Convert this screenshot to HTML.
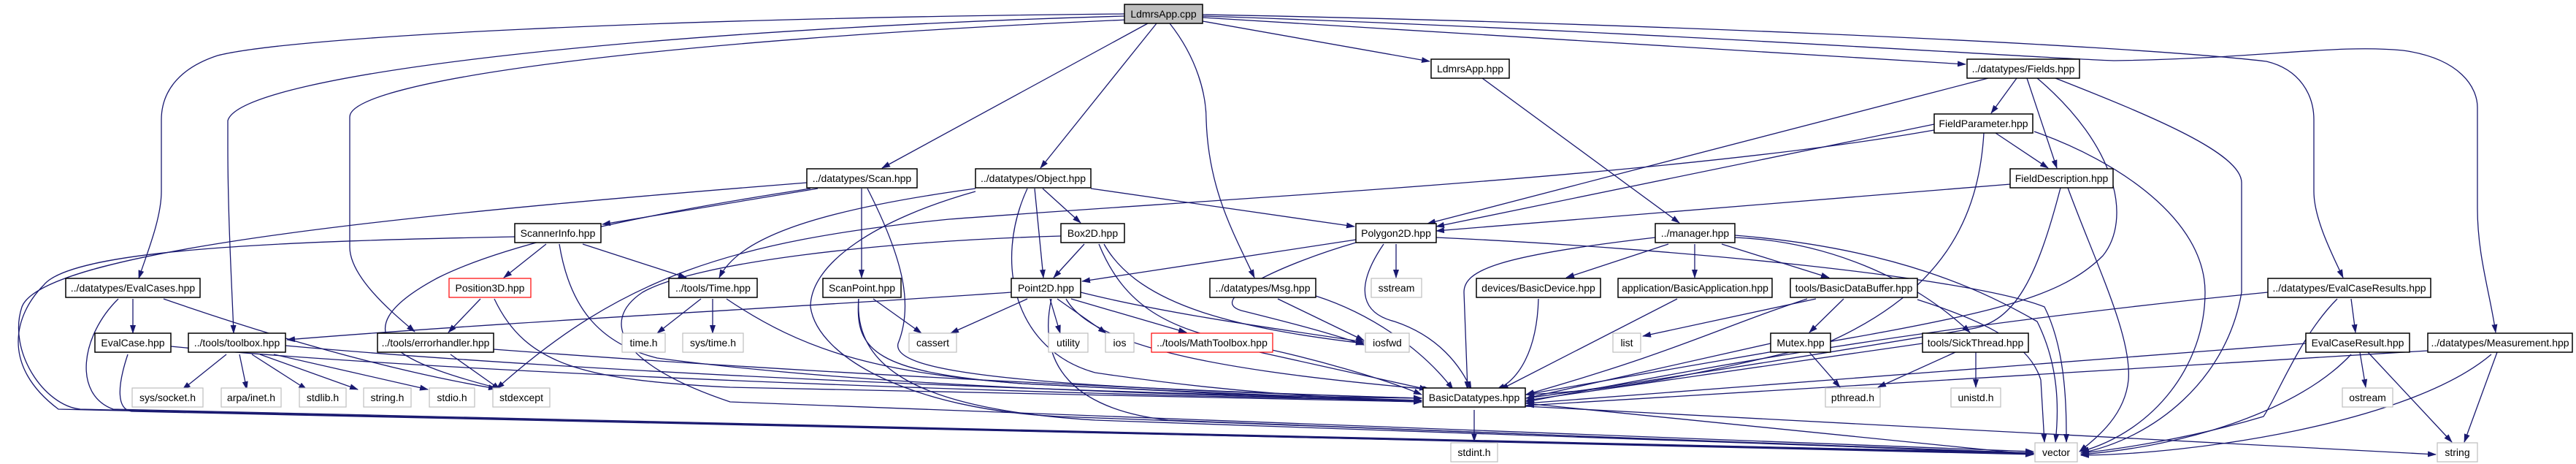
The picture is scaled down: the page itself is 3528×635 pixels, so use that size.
<!DOCTYPE html>
<html><head><meta charset="utf-8"><style>
html,body{margin:0;padding:0;background:#fff}
svg{display:block}
text{font-family:"Liberation Sans",sans-serif;font-size:14px;fill:#000}
.e{fill:none;stroke:#191970;stroke-width:1.3}
.n{fill:#fff;stroke:#000;stroke-width:1.5}
.g{fill:#fff;stroke:#bfbfbf;stroke-width:1.2}
.r{fill:#fff;stroke:#ff0000;stroke-width:1.2}
</style></head><body>
<svg width="3528" height="635" viewBox="0 0 3528 635" xmlns="http://www.w3.org/2000/svg">
<defs><marker id="a" markerWidth="12" markerHeight="8" refX="11" refY="4" orient="auto" markerUnits="userSpaceOnUse"><path d="M0,0 L12,4 L0,8 z" fill="#191970"/></marker></defs>
<g class="e" marker-end="url(#a)">
<!-- root edges -->
<path d="M1540,19 C900,25 400,50 298,76 C240,95 221,130 221,164 L221,262 C221,300 200,350 190,381"/>
<path d="M1540,22 C900,40 330,100 312,165 L312,200 C312,300 318,400 320,456"/>
<path d="M1545,27 C900,55 479,110 479,160 L479,338 C479,380 540,430 568,454"/>
<path d="M1572,32 L1208,230"/>
<path d="M1584,32 L1425,230"/>
<path d="M1602,32 C1640,80 1652,130 1652,164 C1655,260 1690,320 1718,380"/>
<path d="M1647,29 L1958,84"/>
<path d="M1647,24 L2692,88"/>
<path d="M1647,20 C2200,30 2900,60 3104,84 C3150,95 3169,130 3169,164 L3169,262 C3169,300 3195,350 3209,380"/>
<path d="M1647,22 C2200,40 2800,80 2895,83 C3100,80 3200,60 3291,69 C3370,80 3393,120 3393,147 L3393,285 C3393,350 3410,400 3418,455"/>
<!-- Scan -->
<path d="M1120,258 L825,307"/>
<path d="M1180,258 L1180,380"/>
<path d="M1188,258 C1240,360 1250,420 1230,470 C1220,510 1400,530 1947,545"/>
<path d="M1105,250 C600,290 60,340 30,420 C10,480 60,555 110,560 L2785,622"/>
<path d="M1110,258 C900,290 700,330 600,380 C450,460 560,500 685,532"/>
<!-- ScannerInfo -->
<path d="M748,334 L690,380"/>
<path d="M798,334 L940,380"/>
<path d="M766,334 C780,420 820,470 900,490 C1200,530 1600,540 1947,548"/>
<path d="M705,324 C400,330 100,340 60,390 C20,430 0,500 80,560 L2785,620"/>
<!-- Position3D -->
<path d="M658,409 L614,455"/>
<path d="M677,409 C720,500 800,520 1000,530 C1400,540 1700,545 1947,550"/>
<!-- EvalCases -->
<path d="M182,409 L182,456"/>
<path d="M162,409 C110,460 100,540 155,560 L2785,620"/>
<path d="M224,409 C400,470 550,510 680,532"/>
<!-- EvalCase -->
<path d="M234,474 C600,510 1400,540 1947,548"/>
<path d="M175,485 C160,530 160,560 180,563 L2785,621"/>
<!-- toolbox -->
<path d="M310,485 L250,533"/>
<path d="M328,485 L338,533"/>
<path d="M345,485 L420,533"/>
<path d="M356,485 L490,533"/>
<path d="M375,485 L586,533"/>
<path d="M391,473 C800,510 1500,540 1947,545"/>
<!-- errorhandler -->
<path d="M617,485 L685,533"/>
<path d="M676,478 C1100,510 1600,535 1947,545"/>
<!-- Time -->
<path d="M960,409 L900,456"/>
<path d="M976,409 L976,456"/>
<path d="M995,409 C1100,480 1200,510 1400,525 C1700,540 1850,545 1947,548"/>
<!-- Object -->
<path d="M1428,258 L1480,305"/>
<path d="M1417,258 L1429,380"/>
<path d="M1494,258 L1855,310"/>
<path d="M1336,258 C1100,290 1010,330 985,380"/>
<path d="M1407,258 C1360,360 1390,480 1500,510 C1700,540 1850,545 1947,550"/>
<path d="M1336,262 C1200,300 1110,360 1110,420 C1120,490 1250,560 1450,570 L2785,620"/>
<!-- Box2D -->
<path d="M1485,334 L1443,380"/>
<path d="M1512,334 C1560,420 1700,450 1868,470"/>
<path d="M1505,334 C1540,420 1600,450 1700,470 C1800,490 1900,520 1947,540"/>
<path d="M1453,323 C1200,330 950,360 880,400 C820,440 850,500 1000,550 L2785,618"/>
<!-- ScanPoint -->
<path d="M1196,409 L1262,456"/>
<path d="M1176,409 C1170,480 1200,510 1400,525 C1700,540 1850,548 1947,550"/>
<path d="M1176,409 C1170,500 1250,560 1500,575 L2785,620"/>
<!-- Point2D -->
<path d="M1407,409 L1302,456"/>
<path d="M1438,409 L1452,456"/>
<path d="M1448,409 L1515,456"/>
<path d="M1467,409 L1625,455"/>
<path d="M1480,400 C1600,430 1750,450 1868,468"/>
<path d="M1460,409 C1500,480 1700,510 1960,533"/>
<path d="M1440,409 C1420,500 1470,560 1600,575 L2785,621"/>
<path d="M1385,400 C1100,420 700,440 393,465"/>
<!-- MathToolbox, Msg -->
<path d="M1725,482 L1955,533"/>
<path d="M1750,409 L1868,466"/>
<path d="M1802,405 C1880,430 1950,480 1990,533"/>
<!-- Polygon2D -->
<path d="M1857,328 L1482,385"/>
<path d="M1912,334 L1912,380"/>
<path d="M1895,334 C1850,400 1870,430 1910,440 C1970,460 2000,500 2015,533"/>
<path d="M1857,332 C1760,360 1650,410 1700,425 C1760,440 1820,455 1868,472"/>
<path d="M1967,325 C2300,340 2700,380 2800,420 C2830,480 2830,560 2830,605"/>
<!-- LdmrsApp.hpp, manager -->
<path d="M2030,107 L2300,305"/>
<path d="M2285,334 L2145,380"/>
<path d="M2321,334 L2321,380"/>
<path d="M2358,334 L2505,380"/>
<path d="M2267,325 C2050,350 2005,370 2005,400 L2010,533"/>
<path d="M2376,325 C2500,330 2620,380 2698,455"/>
<path d="M2376,322 C2600,340 2720,400 2790,440 C2820,500 2820,560 2815,605"/>
<!-- devices / application / buffer -->
<path d="M2107,409 C2105,480 2080,520 2050,533"/>
<path d="M2297,409 L2055,533"/>
<path d="M2487,409 L2250,460"/>
<path d="M2525,409 L2478,455"/>
<path d="M2475,409 C2350,450 2300,480 2090,540"/>
<path d="M2626,410 C2720,440 2780,470 2795,520 L2800,605"/>
<path d="M2478,482 L2520,530"/>
<path d="M2425,470 L2090,545"/>
<path d="M2678,482 L2572,530"/>
<path d="M2706,482 L2706,530"/>
<path d="M2633,470 L2090,548"/>
<!-- BasicDatatypes -->
<path d="M2019,561 L2019,604"/>
<path d="M2089,552 L2785,622"/>
<path d="M2089,556 L3336,622"/>
<!-- Fields -->
<path d="M2762,107 L2727,155"/>
<path d="M2776,107 L2817,230"/>
<path d="M2723,107 L1955,306"/>
<path d="M2790,107 C2900,200 2920,300 2880,350 C2800,430 2650,440 2090,540"/>
<path d="M2815,107 C2950,160 3070,210 3070,250 L3070,400 C3050,520 2950,600 2850,620"/>
<!-- FieldParameter -->
<path d="M2733,182 L2805,230"/>
<path d="M2649,170 L1967,310"/>
<path d="M2717,182 C2710,300 2660,400 2500,470 C2300,520 2200,535 2090,540"/>
<path d="M2786,180 C2900,220 3020,300 3020,400 C3020,500 2950,590 2850,618"/>
<path d="M2649,178 C2300,240 1700,270 1300,300 C1000,330 850,380 680,532"/>
<!-- FieldDescription -->
<path d="M2754,252 L1967,316"/>
<path d="M2822,257 C2790,380 2760,440 2700,450 C2400,500 2200,530 2090,545"/>
<path d="M2832,257 C2870,360 2920,460 2915,520 C2910,570 2870,600 2848,618"/>
<!-- EvalCaseResults -->
<path d="M3220,409 L3226,455"/>
<path d="M3106,400 C2600,450 2300,510 2090,550"/>
<path d="M3201,409 C3150,460 3120,540 3100,570 C3000,600 2900,615 2850,620"/>
<!-- EvalCaseResult -->
<path d="M3232,482 L3240,530"/>
<path d="M3243,482 L3358,605"/>
<path d="M3220,485 C3150,560 3000,610 2850,622"/>
<path d="M3158,470 L2090,552"/>
<!-- Measurement -->
<path d="M3420,482 L3375,605"/>
<path d="M3412,485 C3300,580 3000,622 2850,623"/>
<path d="M3325,480 L2090,555"/>
</g>
<!-- nodes -->
<g>
<rect x="1540" y="6" width="107" height="26" fill="#bfbfbf" stroke="#000" stroke-width="1.5"/><text x="1593.5" y="24" text-anchor="middle">LdmrsApp.cpp</text>
<rect class="n" x="1960" y="81" width="107" height="26"/><text x="2013.5" y="99" text-anchor="middle">LdmrsApp.hpp</text>
<rect class="n" x="2694" y="81" width="154" height="26"/><text x="2771" y="99" text-anchor="middle">../datatypes/Fields.hpp</text>
<rect class="n" x="2649" y="156" width="135" height="26"/><text x="2716.5" y="174" text-anchor="middle">FieldParameter.hpp</text>
<rect class="n" x="1105" y="231" width="151" height="26"/><text x="1180.5" y="249" text-anchor="middle">../datatypes/Scan.hpp</text>
<rect class="n" x="1336" y="231" width="158" height="26"/><text x="1415" y="249" text-anchor="middle">../datatypes/Object.hpp</text>
<rect class="n" x="2753" y="231" width="141" height="26"/><text x="2823.5" y="249" text-anchor="middle">FieldDescription.hpp</text>
<rect class="n" x="705" y="306" width="118" height="26"/><text x="764" y="324" text-anchor="middle">ScannerInfo.hpp</text>
<rect class="n" x="1453" y="306" width="87" height="26"/><text x="1496.5" y="324" text-anchor="middle">Box2D.hpp</text>
<rect class="n" x="1857" y="306" width="110" height="26"/><text x="1912" y="324" text-anchor="middle">Polygon2D.hpp</text>
<rect class="n" x="2267" y="306" width="109" height="26"/><text x="2321.5" y="324" text-anchor="middle">../manager.hpp</text>
<rect class="n" x="90" y="381" width="184" height="26"/><text x="182" y="399" text-anchor="middle">../datatypes/EvalCases.hpp</text>
<rect class="r" x="615" y="381" width="112" height="26"/><text x="671" y="399" text-anchor="middle">Position3D.hpp</text>
<rect class="n" x="916" y="381" width="121" height="26"/><text x="976.5" y="399" text-anchor="middle">../tools/Time.hpp</text>
<rect class="n" x="1127" y="381" width="107" height="26"/><text x="1180.5" y="399" text-anchor="middle">ScanPoint.hpp</text>
<rect class="n" x="1385" y="381" width="95" height="26"/><text x="1432.5" y="399" text-anchor="middle">Point2D.hpp</text>
<rect class="n" x="1657" y="381" width="145" height="26"/><text x="1729.5" y="399" text-anchor="middle">../datatypes/Msg.hpp</text>
<rect class="g" x="1878" y="381" width="69" height="26"/><text x="1912.5" y="399" text-anchor="middle">sstream</text>
<rect class="n" x="2022" y="381" width="170" height="26"/><text x="2107" y="399" text-anchor="middle">devices/BasicDevice.hpp</text>
<rect class="n" x="2216" y="381" width="211" height="26"/><text x="2321.5" y="399" text-anchor="middle">application/BasicApplication.hpp</text>
<rect class="n" x="2452" y="381" width="174" height="26"/><text x="2539" y="399" text-anchor="middle">tools/BasicDataBuffer.hpp</text>
<rect class="n" x="3106" y="381" width="223" height="26"/><text x="3217.5" y="399" text-anchor="middle">../datatypes/EvalCaseResults.hpp</text>
<rect class="n" x="130" y="456" width="104" height="26"/><text x="182" y="474" text-anchor="middle">EvalCase.hpp</text>
<rect class="n" x="258" y="456" width="133" height="26"/><text x="324.5" y="474" text-anchor="middle">../tools/toolbox.hpp</text>
<rect class="n" x="517" y="456" width="159" height="26"/><text x="596.5" y="474" text-anchor="middle">../tools/errorhandler.hpp</text>
<rect class="g" x="852" y="456" width="59" height="26"/><text x="881.5" y="474" text-anchor="middle">time.h</text>
<rect class="g" x="935" y="456" width="83" height="26"/><text x="976.5" y="474" text-anchor="middle">sys/time.h</text>
<rect class="g" x="1245" y="456" width="65" height="26"/><text x="1277.5" y="474" text-anchor="middle">cassert</text>
<rect class="g" x="1436" y="456" width="54" height="26"/><text x="1463" y="474" text-anchor="middle">utility</text>
<rect class="g" x="1514" y="456" width="39" height="26"/><text x="1533.5" y="474" text-anchor="middle">ios</text>
<rect class="r" x="1577" y="456" width="166" height="26"/><text x="1660" y="474" text-anchor="middle">../tools/MathToolbox.hpp</text>
<rect class="g" x="1870" y="456" width="60" height="26"/><text x="1900" y="474" text-anchor="middle">iosfwd</text>
<rect class="g" x="2209" y="456" width="38" height="26"/><text x="2228" y="474" text-anchor="middle">list</text>
<rect class="n" x="2425" y="456" width="82" height="26"/><text x="2466" y="474" text-anchor="middle">Mutex.hpp</text>
<rect class="n" x="2633" y="456" width="145" height="26"/><text x="2705.5" y="474" text-anchor="middle">tools/SickThread.hpp</text>
<rect class="n" x="3158" y="456" width="142" height="26"/><text x="3229" y="474" text-anchor="middle">EvalCaseResult.hpp</text>
<rect class="n" x="3325" y="456" width="198" height="26"/><text x="3424" y="474" text-anchor="middle">../datatypes/Measurement.hpp</text>
<rect class="g" x="181" y="531" width="97" height="26"/><text x="229.5" y="549" text-anchor="middle">sys/socket.h</text>
<rect class="g" x="303" y="531" width="82" height="26"/><text x="344" y="549" text-anchor="middle">arpa/inet.h</text>
<rect class="g" x="410" y="531" width="64" height="26"/><text x="442" y="549" text-anchor="middle">stdlib.h</text>
<rect class="g" x="498" y="531" width="65" height="26"/><text x="530.5" y="549" text-anchor="middle">string.h</text>
<rect class="g" x="588" y="531" width="62" height="26"/><text x="619" y="549" text-anchor="middle">stdio.h</text>
<rect class="g" x="675" y="531" width="78" height="26"/><text x="714" y="549" text-anchor="middle">stdexcept</text>
<rect class="n" x="1949" y="531" width="140" height="26"/><text x="2019" y="549" text-anchor="middle">BasicDatatypes.hpp</text>
<rect class="g" x="2500" y="531" width="75" height="26"/><text x="2537.5" y="549" text-anchor="middle">pthread.h</text>
<rect class="g" x="2672" y="531" width="68" height="26"/><text x="2706" y="549" text-anchor="middle">unistd.h</text>
<rect class="g" x="3208" y="531" width="69" height="26"/><text x="3242.5" y="549" text-anchor="middle">ostream</text>
<rect class="g" x="1987" y="606" width="64" height="26"/><text x="2019" y="624" text-anchor="middle">stdint.h</text>
<rect class="g" x="2787" y="606" width="58" height="26"/><text x="2816" y="624" text-anchor="middle">vector</text>
<rect class="g" x="3338" y="606" width="55" height="26"/><text x="3365.5" y="624" text-anchor="middle">string</text>
</g>
</svg>
</body></html>
